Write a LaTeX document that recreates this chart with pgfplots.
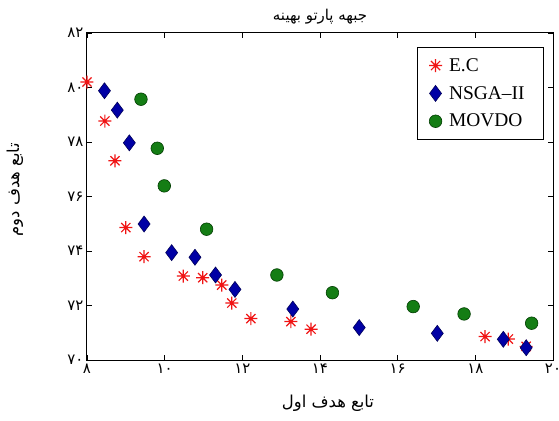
\documentclass[border=0pt]{standalone}
\usepackage{fontspec}
\setmainfont{Liberation Serif}
\newfontfamily\arabicfont[Script=Arabic]{DejaVu Sans}
\TeXXeTstate=1
\usepackage{pgfplots}
\pgfplotsset{compat=1.18}
\definecolor{ecred}{RGB}{240,20,20}
\definecolor{nsgafill}{RGB}{0,0,165}
\definecolor{nsgadraw}{RGB}{0,0,90}
\definecolor{mofill}{RGB}{20,125,20}
\definecolor{modraw}{RGB}{0,60,0}
\pgfdeclareplotmark{star8}{%
  \pgfpathmoveto{\pgfqpoint{-\pgfplotmarksize}{0pt}}\pgfpathlineto{\pgfqpoint{\pgfplotmarksize}{0pt}}%
  \pgfpathmoveto{\pgfqpoint{0pt}{-\pgfplotmarksize}}\pgfpathlineto{\pgfqpoint{0pt}{\pgfplotmarksize}}%
  \pgfpathmoveto{\pgfqpoint{-0.707\pgfplotmarksize}{-0.707\pgfplotmarksize}}\pgfpathlineto{\pgfqpoint{0.707\pgfplotmarksize}{0.707\pgfplotmarksize}}%
  \pgfpathmoveto{\pgfqpoint{-0.707\pgfplotmarksize}{0.707\pgfplotmarksize}}\pgfpathlineto{\pgfqpoint{0.707\pgfplotmarksize}{-0.707\pgfplotmarksize}}%
  \pgfusepathqstroke}
\begin{document}
\begin{tikzpicture}
\path[use as bounding box] (-87bp,-61bp) rectangle (472bp,360bp);
\begin{axis}[
  scale only axis, width=466bp, height=327bp,
  at={(0,0)}, anchor=south west,
  xmin=8, xmax=20, ymin=70, ymax=82,
  xtick={8,10,12,14,16,18,20},
  xticklabels={۸,۱۰,۱۲,۱۴,۱۶,۱۸,۲۰},
  ytick={70,72,74,76,78,80,82},
  yticklabels={۷۰,۷۲,۷۴,۷۶,۷۸,۸۰,۸۲},
  ticklabel style={font=\arabicfont\fontsize{15}{17}\selectfont},
  major tick length=5bp,
  tick align=inside,
  axis line style={line width=1bp},
  every tick/.style={black, line width=0.8bp},
  title={\arabicfont\fontsize{15}{17}\selectfont\beginR جبهه پارتو بهینه\endR},
  title style={at={(axis description cs:0.5,1)}, anchor=center, yshift=10bp},
  xlabel={\arabicfont\fontsize{16.5}{18}\selectfont\beginR تابع هدف اول\endR},
  xlabel style={at={(axis description cs:0.5,0)}, anchor=center, yshift=-43bp, xshift=8bp},
  ylabel={\arabicfont\fontsize{16.5}{18}\selectfont\beginR تابع هدف دوم\endR},
  ylabel style={at={(axis description cs:-0.1545,0.52)}, anchor=center},
  legend style={at={(axis description cs:1,1)}, anchor=north east, xshift=-9bp, yshift=-14bp,
    draw=black, line width=0.8bp, font=\fontsize{19.5}{22}\selectfont,
    inner xsep=12bp, inner ysep=9bp, row sep=9.5bp,
    nodes={inner xsep=7bp}},
  legend cell align=left,
]
\addplot[only marks, mark=star8, mark size=6.5bp, ecred, line width=1.2bp] coordinates {
(8.0,80.2) (8.46,78.77) (8.72,77.31) (9.0,74.86) (9.47,73.79) (10.48,73.08)
(10.98,73.02) (11.47,72.75) (11.73,72.09) (12.22,71.52) (13.25,71.41) (13.77,71.13)
(18.25,70.86) (18.85,70.77) (19.31,70.5)
};
\addlegendentry{E.C}
\addplot[only marks, mark=diamond*, mark size=8bp, draw=nsgadraw, fill=nsgafill, line width=0.6bp] coordinates {
(8.45,79.88) (8.78,79.17) (9.09,77.97) (9.47,74.99) (10.18,73.94) (10.78,73.77)
(11.31,73.12) (11.81,72.59) (13.30,71.87) (15.01,71.19) (17.02,70.98) (18.72,70.76)
(19.31,70.45)
};
\addlegendentry{NSGA--II}
\addplot[only marks, mark=*, mark size=6.3bp, draw=modraw, fill=mofill, line width=0.6bp] coordinates {
(9.39,79.57) (9.81,77.77) (9.99,76.39) (11.08,74.80) (12.89,73.12) (14.32,72.47)
(16.40,71.96) (17.71,71.69) (19.45,71.35)
};
\addlegendentry{MOVDO}
\end{axis}
\end{tikzpicture}
\end{document}
